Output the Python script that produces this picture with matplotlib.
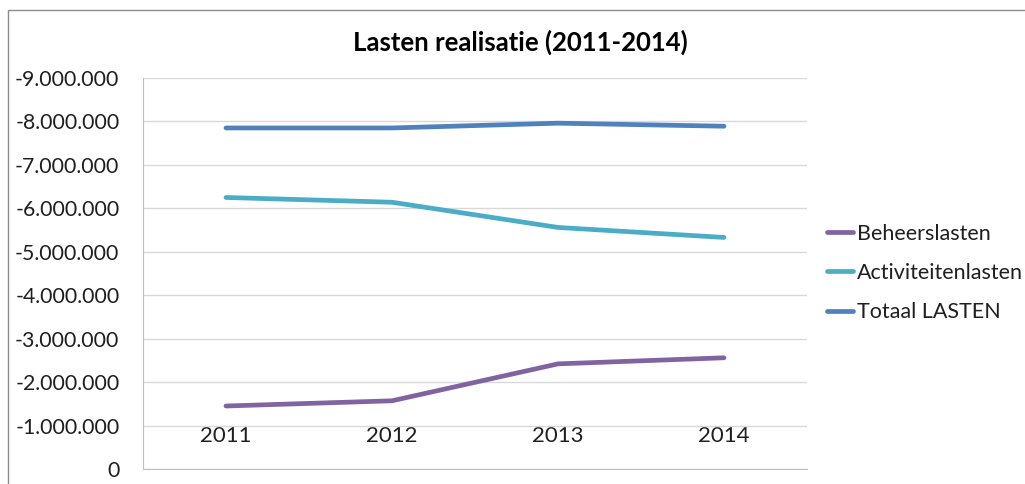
import matplotlib
matplotlib.use("Agg")
from matplotlib import pyplot as plt
from matplotlib.patches import Rectangle

plt.rcParams['font.family'] = ['Lato', 'DejaVu Sans']

# data (values in euro, shown negative)
years = ['2011', '2012', '2013', '2014']
beheerslasten = [-1450000, -1570000, -2420000, -2560000]
activiteitenlasten = [-6250000, -6140000, -5560000, -5330000]
totaal_lasten = [-7850000, -7850000, -7960000, -7890000]
y_ticks = [0, -1000000, -2000000, -3000000, -4000000, -5000000,
           -6000000, -7000000, -8000000, -9000000]

series = [
    ('Beheerslasten', beheerslasten, '#8064A2'),
    ('Activiteitenlasten', activiteitenlasten, '#4BACC6'),
    ('Totaal LASTEN', totaal_lasten, '#4F81BD'),
]

fig = plt.figure(figsize=(10.25, 4.84), dpi=100)
# outer chart frame
fig.patches.append(Rectangle((8 / 1025, -0.1), 1.2, 1 - 10 / 484 + 0.1,
                             transform=fig.transFigure, fill=False,
                             edgecolor='#8C8C8C', lw=1))

ax = fig.add_axes([143 / 1025, 1 - 469 / 484, 664 / 1025, 391 / 484])

x = list(range(len(years)))
for name, vals, col in series:
    ax.plot(x, vals, color=col, lw=3.4, label=name,
            solid_capstyle='round', solid_joinstyle='round')

ax.set_xlim(-0.5, 3.5)
ax.set_ylim(0, -9000000)
ax.set_yticks(y_ticks)
ax.set_yticklabels([f"{v:,.0f}".replace(",", ".") for v in y_ticks])
ax.set_xticks(x)
ax.set_xticklabels(years)

ax.grid(axis='y', color='#D9D9D9', lw=1)
ax.set_axisbelow(True)
for s in ['top', 'right']:
    ax.spines[s].set_visible(False)
ax.spines['left'].set_color('#BFBFBF')
ax.spines['bottom'].set_color('#BFBFBF')

ax.tick_params(axis='y', length=0, pad=17, labelsize=15.3, labelcolor='#1F1F1F')
ax.tick_params(axis='x', length=0, pad=-31, labelsize=16, labelcolor='#1F1F1F')

fig.text(0.508, 1 - 42 / 484, 'Lasten realisatie (2011-2014)', ha='center',
         va='center', fontsize=18.5, fontweight='bold', color='#000000')

fig.legend(loc='center left', bbox_to_anchor=(827 / 1025, 1 - 273 / 484),
           frameon=False, fontsize=15.5, handlelength=1.2, handletextpad=0.2,
           labelspacing=0.9, borderpad=0, borderaxespad=0,
           labelcolor='#1F1F1F')

fig.savefig('out.png', dpi=100)
